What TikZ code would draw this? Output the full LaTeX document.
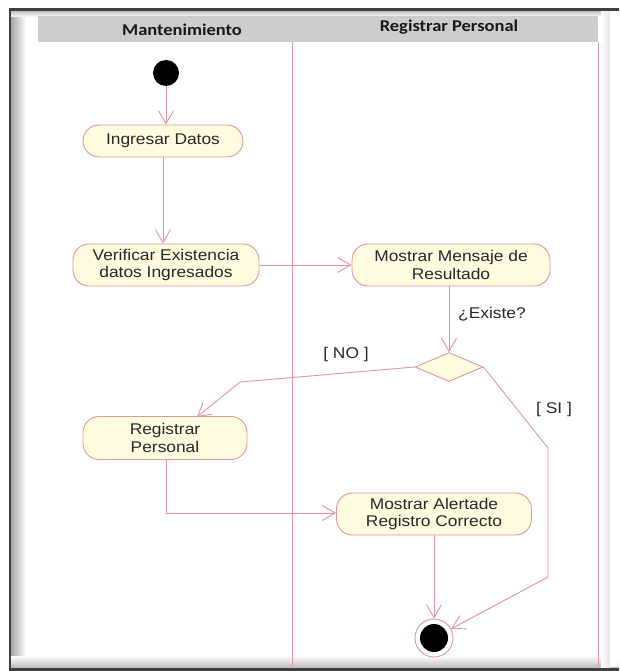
\documentclass[tikz,border=0pt]{standalone}
\usepackage{fontspec}
\setmainfont{Liberation Sans}
\newfontfamily\nodefont[FakeStretch=1.12]{Liberation Sans}
\newfontfamily\headfont[FakeStretch=1.12]{Carlito}
\usetikzlibrary{arrows.meta,shapes.geometric}
\definecolor{lc}{RGB}{222,150,162}
\definecolor{nf}{RGB}{255,251,222}
\definecolor{tc}{RGB}{40,40,40}
\definecolor{hd}{RGB}{205,205,205}
\tikzset{
  act/.style={draw=lc, fill=nf, line width=0.9pt, rectangle, rounded corners=16pt,
    inner sep=0pt, align=center, text=tc,
    font=\nodefont\fontsize{15.5}{17.5}\selectfont},
  lbl/.style={text=tc, inner sep=0pt, font=\nodefont\fontsize{15.5}{17.5}\selectfont},
  hdr/.style={text=black!90, inner sep=0pt, font=\headfont\bfseries\fontsize{16.5}{18}\selectfont},
  arr/.style={draw=lc, line width=0.9pt, -{Straight Barb[length=13pt,width=15pt,line width=0.9pt]}},
  lane/.style={draw=lc, line width=0.9pt},
}
\begin{document}
\begin{tikzpicture}[x=1pt,y=-1pt]
\useasboundingbox (0,0) rectangle (619,671);
\fill[white] (0,0) rectangle (619,671);
% frame shadows
\shade[left color=black!35, right color=white] (11,11) rectangle (26,667);
\shade[top color=black!25, bottom color=white] (11,11) rectangle (619,17);
\shade[bottom color=black!25, top color=white] (11,656) rectangle (619,667);
\shade[left color=white, right color=black!10] (601,11) rectangle (610,667);
\fill[white] (610,11) rectangle (619,667);
\draw[black!75, line width=2.5pt] (10,671) -- (10,9.5) -- (619,9.5);
\draw[black!75, line width=3pt] (10,669) -- (619,669);
% header
\fill[hd] (38,16) rectangle (598,42);
\node[hdr] (h1) at (182,30) {Mantenimiento};
\node[hdr] (h2) at (449,27) {Registrar Personal};
% lanes
\draw[lane] (292,42) -- (292,667);
\draw[lane] (598,42) -- (598,667);
% nodes
\node[circle, fill=black, minimum size=26pt, inner sep=0pt] (ini) at (166,73) {};
\node[act, minimum width=160pt, minimum height=32pt] (ing) at (163,141) {Ingresar Datos};
\node[act, minimum width=186pt, minimum height=42pt] (ver) at (166,265) {Verificar Existencia\\datos Ingresados};
\node[act, minimum width=198pt, minimum height=42pt] (mm) at (451,265) {Mostrar Mensaje de\\Resultado};
\node[diamond, draw=lc, fill=nf, line width=0.9pt, aspect=2.35, minimum width=68pt, minimum height=29pt, inner sep=0pt] (dec) at (449,367) {};
\node[act, minimum width=164pt, minimum height=43pt] (rp) at (165,438) {Registrar\\Personal};
\node[act, minimum width=195pt, minimum height=42pt] (ma) at (434,514) {Mostrar Alertade\\Registro Correcto};
\node[circle, draw=lc, line width=0.9pt, fill=white, minimum size=38pt, inner sep=0pt] (fin) at (434,638) {};
\fill[black] (fin.center) circle (14pt);
% labels
\node[lbl] (q) at (492,314) {¿Existe?};
\node[lbl] (no) at (346,354) {[ NO ]};
\node[lbl] (si) at (554,409) {[ SI ]};
% coordinates
\coordinate (c1) at (240,382);
\coordinate (t1) at (197,417);
\coordinate (c2) at (548,448);
\coordinate (c3) at (548,577);
\coordinate (c4) at (166,513);
% edges
\draw[arr] (ini) -- (ini |- ing.north);
\draw[arr] (ing.south) -- (ing.south |- ver.north);
\draw[arr] (ver) -- (mm);
\draw[arr] (mm.south -| dec.north) -- (dec.north);
\draw[arr] (dec.west) -- (c1) -- (t1);
\draw[arr] (rp.south -| c4) -- (c4) -- (ma.west |- c4);
\draw[arr] (ma.south) -- (fin.north);
\draw[arr] (dec.east) -- (c2) -- (c3) -- (fin);
\end{tikzpicture}
\end{document}
